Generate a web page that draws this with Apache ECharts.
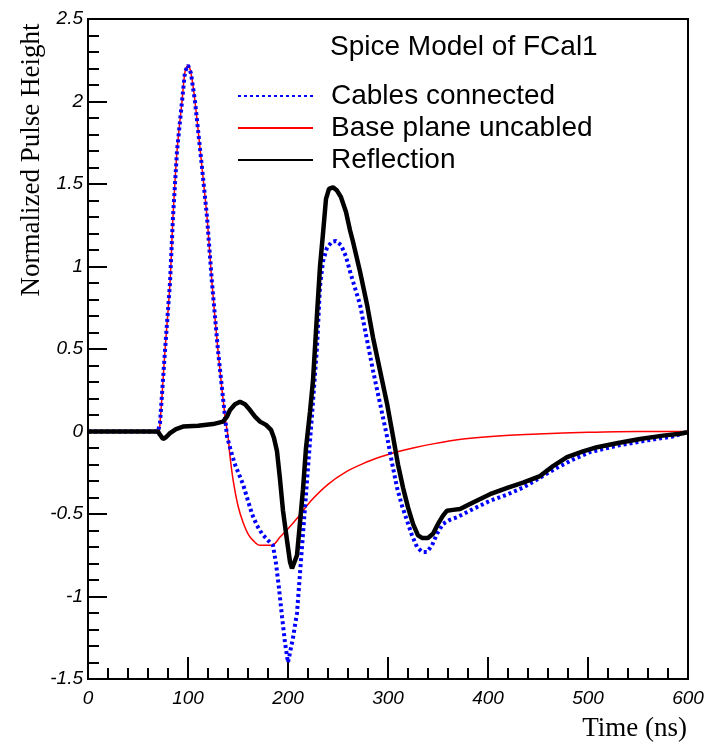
<!DOCTYPE html>
<html>
<head>
<meta charset="utf-8">
<script src="https://cdn.jsdelivr.net/npm/echarts@6/dist/echarts.min.js"></script>
<style>
  html, body { margin: 0; padding: 0; background: #fff; }
  #chart { width: 710px; height: 746px; }
</style>
</head>
<body>
<div id="chart"></div>
<script>
// time in ns, normalized pulse height
var pulseRise = [
  [0, 0], [70, 0], [72, 0.05], [77, 0.49], [82, 0.9], [85, 1.3], [89, 1.7], [94, 2.0],
  [97, 2.18], [100, 2.22], [103, 2.17], [107, 2.0], [114, 1.6], [119, 1.3], [124, 0.9],
  [130, 0.49], [137, 0.09]
];
var baseTail = [
  [140, -0.03], [142, -0.15], [145, -0.29], [150, -0.45], [155, -0.55], [160, -0.62],
  [165, -0.66], [172, -0.69], [184, -0.69], [192, -0.64], [200, -0.59], [210, -0.52],
  [223, -0.42], [240, -0.32], [258, -0.245], [275, -0.195], [292, -0.155], [305, -0.13],
  [325, -0.1], [345, -0.075], [375, -0.046], [410, -0.027], [450, -0.015], [500, -0.005],
  [550, 0], [600, 0]
];
var cablesTail = [
  [139, -0.03], [143, -0.12], [147, -0.2], [151, -0.26], [155, -0.32], [160, -0.42],
  [164, -0.5], [169, -0.57], [174, -0.62], [180, -0.66], [185, -0.69], [188, -0.8],
  [191, -0.95], [194, -1.12], [197, -1.28], [200, -1.4], [202, -1.39], [205, -1.25],
  [209, -1.1], [214, -0.7], [219, -0.3], [224, 0.1], [229, 0.51], [232, 0.88], [235, 1.03],
  [239, 1.115], [244, 1.15], [248, 1.155], [253, 1.13], [258, 1.06], [262, 0.97],
  [272, 0.77], [285, 0.37], [292, 0.17], [299, -0.03], [304, -0.19], [309, -0.34],
  [314, -0.45], [319, -0.54], [324, -0.63], [329, -0.7], [334, -0.73], [339, -0.73],
  [344, -0.69], [349, -0.62], [355, -0.56], [362, -0.535], [369, -0.52], [385, -0.47],
  [402, -0.42], [420, -0.38], [435, -0.34], [452, -0.28], [469, -0.22], [485, -0.17],
  [502, -0.125], [530, -0.085], [559, -0.054], [585, -0.03], [600, 0]
];
var reflection = [
  [0, 0], [70, 0], [72, -0.02], [75, -0.045], [78, -0.035], [82, -0.01], [88, 0.015],
  [95, 0.03], [110, 0.035], [125, 0.045], [135, 0.06], [139, 0.09], [142, 0.13],
  [147, 0.165], [152, 0.18], [157, 0.165], [162, 0.13], [167, 0.09], [172, 0.06],
  [178, 0.04], [183, 0.01], [186, -0.04], [189, -0.12], [192, -0.29], [195, -0.48],
  [199, -0.66], [202, -0.79], [204, -0.83], [206, -0.82], [209, -0.75], [212, -0.55],
  [215, -0.35], [218, -0.1], [222, 0.12], [225, 0.31], [229, 0.71], [232, 1.0],
  [235, 1.2], [238, 1.41], [241, 1.47], [245, 1.48], [249, 1.46], [253, 1.42],
  [258, 1.33], [262, 1.22], [265, 1.15], [272, 0.97], [279, 0.77], [285, 0.57],
  [292, 0.37], [299, 0.17], [305, -0.03], [310, -0.2], [315, -0.34], [320, -0.46],
  [325, -0.56], [330, -0.63], [334, -0.645], [340, -0.645], [345, -0.62], [350, -0.56],
  [355, -0.51], [359, -0.48], [365, -0.475], [372, -0.47], [385, -0.43], [402, -0.38],
  [420, -0.34], [435, -0.31], [452, -0.27], [465, -0.21], [479, -0.155], [495, -0.12],
  [509, -0.095], [530, -0.07], [552, -0.045], [575, -0.025], [592, -0.014], [600, -0.005]
];
var seriesNames = ["Cables connected", "Base plane uncabled", "Reflection"];

var chart = echarts.init(document.getElementById("chart"));
var tickFont = {
  fontFamily: "Liberation Sans",
  fontStyle: "italic",
  fontSize: 19,
  color: "#000"
};

var option = {
  animation: false,
  backgroundColor: "#fff",
  title: {
    text: "Spice Model of FCal1",
    left: 325,
    top: 28,
    textStyle: { fontFamily: "Liberation Sans", fontSize: 28, fontWeight: "normal", color: "#000" }
  },
  legend: {
    orient: "vertical",
    left: 237,
    top: 81,
    padding: 0,
    itemGap: 2,
    itemWidth: 75,
    itemHeight: 10,
    data: seriesNames,
    itemStyle: { opacity: 0 },
    textStyle: {
      fontFamily: "Liberation Sans",
      fontSize: 28,
      lineHeight: 30,
      color: "#000",
      padding: [0, 0, 0, 13]
    }
  },
  grid: {
    left: 88,
    right: 22,
    top: 19,
    bottom: 67,
    show: true,
    borderColor: "#000",
    borderWidth: 2,
    backgroundColor: "transparent"
  },
  xAxis: {
    type: "value",
    min: 0,
    max: 600,
    interval: 100,
    axisLine: { show: true, onZero: false, lineStyle: { color: "#000", width: 2 } },
    axisTick: { show: true, inside: true, length: 22, lineStyle: { color: "#000", width: 2 } },
    minorTick: { show: true, splitNumber: 5, length: 11, lineStyle: { color: "#000", width: 2 } },
    splitLine: { show: false },
    axisLabel: Object.assign({ margin: 10 }, tickFont)
  },
  yAxis: {
    type: "value",
    min: -1.5,
    max: 2.5,
    interval: 0.5,
    axisLine: { show: true, onZero: false, lineStyle: { color: "#000", width: 2 } },
    axisTick: { show: true, inside: true, length: 19, lineStyle: { color: "#000", width: 2 } },
    minorTick: { show: true, splitNumber: 5, length: 11, lineStyle: { color: "#000", width: 2 } },
    splitLine: { show: false },
    axisLabel: Object.assign({ margin: 5 }, tickFont)
  },
  graphic: [
    {
      type: "text",
      x: 32,
      y: 160,
      rotation: Math.PI / 2,
      style: {
        text: "Normalized Pulse Height",
        font: "27px 'Liberation Serif'",
        fill: "#000",
        textAlign: "center",
        textVerticalAlign: "middle"
      }
    },
    {
      type: "text",
      x: 687,
      y: 742,
      style: {
        text: "Time (ns)",
        font: "27px 'Liberation Serif'",
        fill: "#000",
        textAlign: "right",
        textVerticalAlign: "bottom"
      }
    }
  ],
  series: [
    {
      name: seriesNames[1],
      type: "line",
      symbol: "none",
      smooth: 0.3,
      z: 2,
      data: pulseRise.concat(baseTail),
      lineStyle: { color: "#ff0000", width: 1.5 },
      itemStyle: { color: "#ff0000" }
    },
    {
      name: seriesNames[0],
      type: "line",
      symbol: "none",
      z: 3,
      data: pulseRise.concat(cablesTail),
      lineStyle: { color: "#0000ff", width: 4, type: [3, 3], cap: "butt" },
      itemStyle: { color: "#0000ff" }
    },
    {
      name: seriesNames[2],
      type: "line",
      symbol: "none",
      z: 4,
      data: reflection,
      lineStyle: { color: "#000", width: 4.5 },
      itemStyle: { color: "#000" }
    }
  ]
};

chart.setOption(option);
</script>
</body>
</html>
